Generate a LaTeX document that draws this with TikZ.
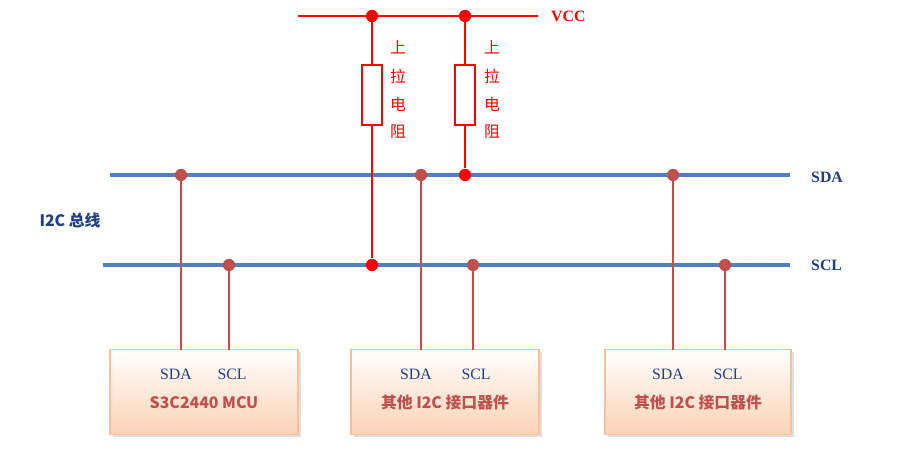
\documentclass[tikz,border=0pt]{standalone}
\usepackage{fontspec}
\setmainfont{Liberation Serif}
\newfontfamily\cjk{Noto Sans CJK SC}
\usetikzlibrary{shadows}
\definecolor{bus}{HTML}{4F81BD}
\definecolor{tap}{HTML}{C0504D}
\definecolor{navy}{HTML}{1F3F7F}
\definecolor{peach}{HTML}{FBD3B5}
\definecolor{edge}{HTML}{F9C09A}
\begin{document}
\begin{tikzpicture}[x=0.02cm,y=-0.02cm,
  busline/.style={bus,line width=2.2pt},
  tapline/.style={tap,line width=1.2pt},
  pwr/.style={red,line width=1.2pt},
  dot/.style={circle,fill=#1,inner sep=0pt,minimum size=7pt},
  dev/.style={draw=edge,line width=0.8pt,top color=white,bottom color=peach,drop shadow={opacity=0.25,shadow xshift=1.5pt,shadow yshift=-1.5pt}},
  pin/.style={text=navy,font=\small},
  devname/.style={text=tap,font=\cjk\bfseries\small},
  side/.style={text=navy,font=\bfseries\small},
  res/.style={red,font=\cjk\small}]
\useasboundingbox (0,0) rectangle (903,452);
% power rail
\coordinate (v0) at (298,16); \coordinate (v1) at (538,16);
\draw[pwr] (v0) -- (v1);
\node[side,text=red,right] at (545,16) {VCC};
\node[dot=red] (p1) at (372,16) {};
\node[dot=red] (p2) at (465,16) {};
% buses
\coordinate (sda0) at (110,175); \coordinate (sda1) at (790,175);
\coordinate (scl0) at (103,265); \coordinate (scl1) at (790,265);
\draw[busline] (sda0) -- (sda1);
\draw[busline] (scl0) -- (scl1);
\node[side,right] at (805,177) {SDA};
\node[side,right] at (805,265) {SCL};
\node[side,font=\cjk\bfseries\small] at (70,220) {I2C 总线};
% pull-up resistors
\node[draw=red,line width=1.2pt,fill=white,minimum width=0.4cm,minimum height=1.2cm,inner sep=0pt] (r1) at (372,95) {};
\node[draw=red,line width=1.2pt,fill=white,minimum width=0.4cm,minimum height=1.2cm,inner sep=0pt] (r2) at (465,95) {};
\node[dot=red] (q1) at (372,265) {};
\node[dot=red] (q2) at (465,175) {};
\draw[pwr] (p1) -- (r1.north); \draw[pwr] (r1.south) -- (q1);
\draw[pwr] (p2) -- (r2.north); \draw[pwr] (r2.south) -- (q2);
\foreach \x in {398,492}{
  \node[res] at (\x,47) {上};
  \node[res] at (\x,76) {拉};
  \node[res] at (\x,104) {电};
  \node[res] at (\x,132) {阻};
}
% devices
\node[dev,minimum width=3.76cm,minimum height=1.7cm] (d1) at (204,392) {};
\node[dev,minimum width=3.76cm,minimum height=1.7cm] (d2) at (445,392) {};
\node[dev,minimum width=3.72cm,minimum height=1.7cm] (d3) at (698,392) {};
\node[devname] at (204,403) {S3C2440 MCU};
\node[devname] at (445,403) {其他 I2C 接口器件};
\node[devname] at (698,403) {其他 I2C 接口器件};
\foreach \a/\b/\n in {181/229/1,421/473/2,673/725/3}{
  \node[dot=tap] (ta\n) at (\a,175) {};
  \node[dot=tap] (tc\n) at (\b,265) {};
  \coordinate (ba\n) at (\a,350); \coordinate (bc\n) at (\b,350);
  \draw[tapline] (ta\n) -- (ba\n);
  \draw[tapline] (tc\n) -- (bc\n);
  \node[pin] at (\a-5,374) {SDA};
  \node[pin] at (\b+3,374) {SCL};
}
\end{tikzpicture}
\end{document}
